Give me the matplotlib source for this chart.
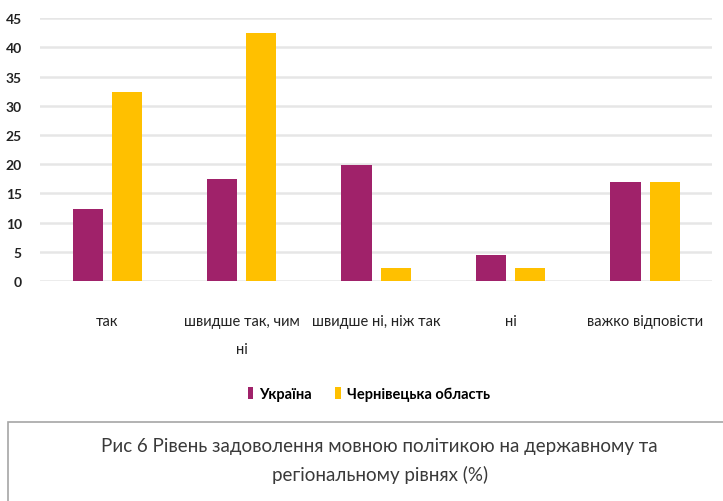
import matplotlib.pyplot as plt
import numpy as np
from matplotlib.patches import Rectangle

# === дані ===
categories = ["так", "швидше так, чим\nні", "швидше ні, ніж так", "ні", "важко відповісти"]
ukraine = [12.4, 17.5, 19.8, 4.4, 17.0]
chernivtsi = [32.3, 42.4, 2.3, 2.3, 17.0]
series_names = ["Україна", "Чернівецька область"]
caption = "Рис 6 Рівень задоволення мовною політикою на державному та\nрегіональному рівнях (%)"

plt.rcParams["font.family"] = ["Lato", "DejaVu Sans"]

fig = plt.figure(figsize=(7.23, 5.02), dpi=100)
ax = fig.add_axes([0.0553, 0.438, 0.93, 0.524])

x = np.arange(len(categories))
w = 0.224
off = 0.146
ax.bar(x - off, ukraine, w, color="#A0226A", label=series_names[0], zorder=3)
ax.bar(x + off, chernivtsi, w, color="#FFC000", label=series_names[1], zorder=3)

ax.set_xlim(-0.5, len(categories) - 0.5)
ax.set_ylim(0, 45)
ax.set_yticks(range(0, 46, 5))
ax.grid(axis="y", color="#e6e6e6", linewidth=1.8, zorder=0)
for s in ax.spines.values():
    s.set_visible(False)
ax.tick_params(length=0)
ax.set_xticks(x)
ax.set_xticklabels(categories, fontsize=10.5, linespacing=2.2, color="#222222")
ax.tick_params(axis="x", pad=24)
for lab in ax.get_yticklabels():
    lab.set_fontweight("bold")
    lab.set_fontsize(10)
    lab.set_color("#222222")
ax.tick_params(axis="y", pad=13)

leg = fig.legend(loc="center", bbox_to_anchor=(0.51, 0.213), ncol=2, frameon=False,
                 handlelength=0.4, handleheight=0.9, handletextpad=0.4, columnspacing=1.6,
                 prop={"weight": "bold", "size": 10.5})

# рамка підпису
fig.patches.append(Rectangle((8 / 723, -0.05), 1.0, 0.05 + (502 - 423) / 502,
                             transform=fig.transFigure, fill=False,
                             edgecolor="#a6a6a6", linewidth=1.2))
fig.text(0.525, 0.082, caption, ha="center", va="center", fontsize=13.5,
         color="#3a3a3a", linespacing=1.75)

fig.savefig("out.png", dpi=100)
